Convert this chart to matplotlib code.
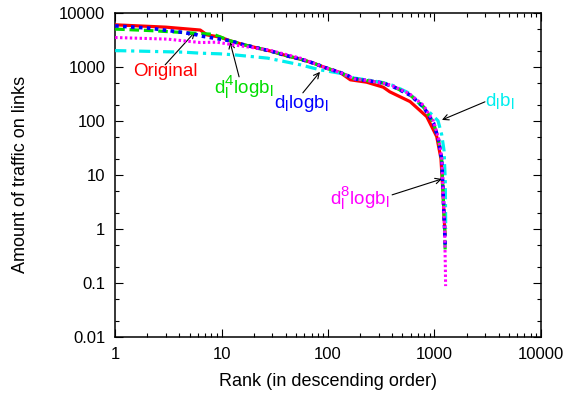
import numpy as np
import matplotlib
matplotlib.use('Agg')
import matplotlib.pyplot as plt
from matplotlib.ticker import LogLocator, NullFormatter, FixedLocator

plt.rcParams['font.family'] = ['Liberation Sans', 'DejaVu Sans']
plt.rcParams['mathtext.default'] = 'regular'
# gnuplot's sub/superscripts are a bit bigger than mathtext's
try:
    import matplotlib._mathtext as _mt
    _mt.SHRINK_FACTOR = 0.8
except Exception:
    pass

# values (rank, traffic)
orig_rank = [1, 3, 6.3, 7.3, 9.7, 12, 16, 22, 30, 41, 55, 73, 97, 130, 162, 230, 330, 380, 590, 845, 1050, 1150, 1200, 1235, 1255]
orig_val = [6000, 5430, 4800, 3900, 3550, 3040, 2580, 2220, 1920, 1600, 1390, 1170, 946, 785, 575, 520, 420, 345, 227, 120, 51, 20, 5, 1.5, 0.8]

d4_rank = [1, 2.1, 4.4, 8.4, 12, 16, 22, 30, 41, 55, 73, 97, 130, 155, 175, 230, 330, 410, 590, 785, 980, 1090, 1170, 1205, 1245, 1262]
d4_val = [5000, 4700, 4320, 4000, 3040, 2580, 2220, 1920, 1600, 1390, 1170, 946, 785, 680, 600, 560, 500, 430, 300, 184, 91, 45, 19, 4.6, 1, 0.35]

dl_rank = [1, 2.1, 4.4, 5.9, 6.3, 12, 16, 22, 30, 41, 55, 73, 97, 130, 155, 175, 230, 330, 410, 590, 785, 980, 1090, 1170, 1205, 1245, 1260]
dl_val = [5730, 5200, 4320, 3900, 3740, 3040, 2580, 2220, 1920, 1600, 1390, 1170, 946, 785, 680, 600, 560, 500, 430, 300, 184, 91, 45, 19, 4.6, 1, 0.5]

d8_rank = [1, 3.1, 6.3, 9, 13, 27, 55, 75, 97, 130, 155, 175, 230, 330, 410, 590, 785, 980, 1090, 1170, 1205, 1245, 1265, 1272]
d8_val = [3490, 3260, 2820, 2860, 2550, 2070, 1450, 1150, 946, 785, 680, 600, 560, 500, 440, 310, 195, 98, 48, 20, 5, 1, 0.2, 0.087]

db_rank = [1, 4.4, 6.3, 9.7, 13, 27, 55, 84, 130, 175, 230, 330, 410, 590, 730, 880, 1080, 1170, 1230, 1262, 1275]
db_val = [2000, 1870, 1790, 1740, 1670, 1450, 1090, 880, 760, 620, 575, 510, 450, 320, 200, 150, 100, 55, 28, 8, 1]

fig = plt.figure(figsize=(5.7, 4.01), dpi=100)
ax = fig.add_axes([0.202, 0.160, 0.747, 0.808])

ax.plot(orig_rank, orig_val, color='#ff0000', lw=2.3, ls='-', zorder=3)
ax.plot(db_rank, db_val, color='#00eeee', lw=2.3, ls=(0, (3.5, 1.5, 1, 1.5)), zorder=3)
ax.plot(d4_rank, d4_val, color='#00dd00', lw=2.3, ls=(0, (3, 1.5)), zorder=4)
ax.plot(dl_rank, dl_val, color='#0000ff', lw=2.6, ls=(0, (1, 1.2)), zorder=5)
ax.plot(d8_rank, d8_val, color='#ff00ff', lw=2.2, ls=(0, (0.8, 0.8)), zorder=6)

ax.set_xscale('log')
ax.set_yscale('log')
ax.set_xlim(1, 10000)
ax.set_ylim(0.01, 10000)

ax.xaxis.set_major_locator(FixedLocator([1, 10, 100, 1000, 10000]))
ax.xaxis.set_minor_locator(LogLocator(base=10, subs=np.arange(2, 10), numticks=20))
ax.yaxis.set_major_locator(FixedLocator([0.01, 0.1, 1, 10, 100, 1000, 10000]))
ax.yaxis.set_minor_locator(LogLocator(base=10, subs=(2, 5), numticks=20))
ax.xaxis.set_minor_formatter(NullFormatter())
ax.yaxis.set_minor_formatter(NullFormatter())
ax.set_xticklabels(['1', '10', '100', '1000', '10000'])
ax.set_yticklabels(['0.01', '0.1', '1', '10', '100', '1000', '10000'])

ax.tick_params(which='both', direction='in', top=True, right=True, labelsize=12, width=0.8)
ax.tick_params(which='major', length=6, pad=7)
ax.tick_params(which='minor', length=3)
for s in ax.spines.values():
    s.set_linewidth(1.1)

ax.set_xlabel('Rank (in descending order)', fontsize=13, labelpad=8)
ax.set_ylabel('Amount of traffic on links', fontsize=13, labelpad=22)

fs = 13.5
arrow = dict(arrowstyle='->', color='black', lw=0.8, shrinkA=0, shrinkB=0)
ax.annotate('', xy=(5.64, 4450), xytext=(2.95, 1090), arrowprops=arrow)
ax.text(2.95, 807, 'Original', color='#ff0000', fontsize=fs, ha='center', va='center')

ax.annotate('', xy=(12.0, 2900), xytext=(14.6, 653), arrowprops=arrow)
ax.text(16.3, 408, r'$d_l^4logb_l$', color='#00dd00', fontsize=fs, ha='center', va='center')

ax.annotate('', xy=(84, 807), xytext=(58, 330), arrowprops=arrow)
ax.text(56, 207, r'$d_llogb_l$', color='#0000ff', fontsize=fs, ha='center', va='center')

ax.annotate('', xy=(1175, 104), xytext=(2980, 225), arrowprops=arrow)
ax.text(4070, 234, r'$d_lb_l$', color='#00eeee', fontsize=fs, ha='center', va='center')

ax.annotate('', xy=(1175, 8.4), xytext=(400, 4.26), arrowprops=arrow)
ax.text(200, 3.6, r'$d_l^8logb_l$', color='#ff00ff', fontsize=fs, ha='center', va='center')

fig.savefig('out.png', dpi=100)
